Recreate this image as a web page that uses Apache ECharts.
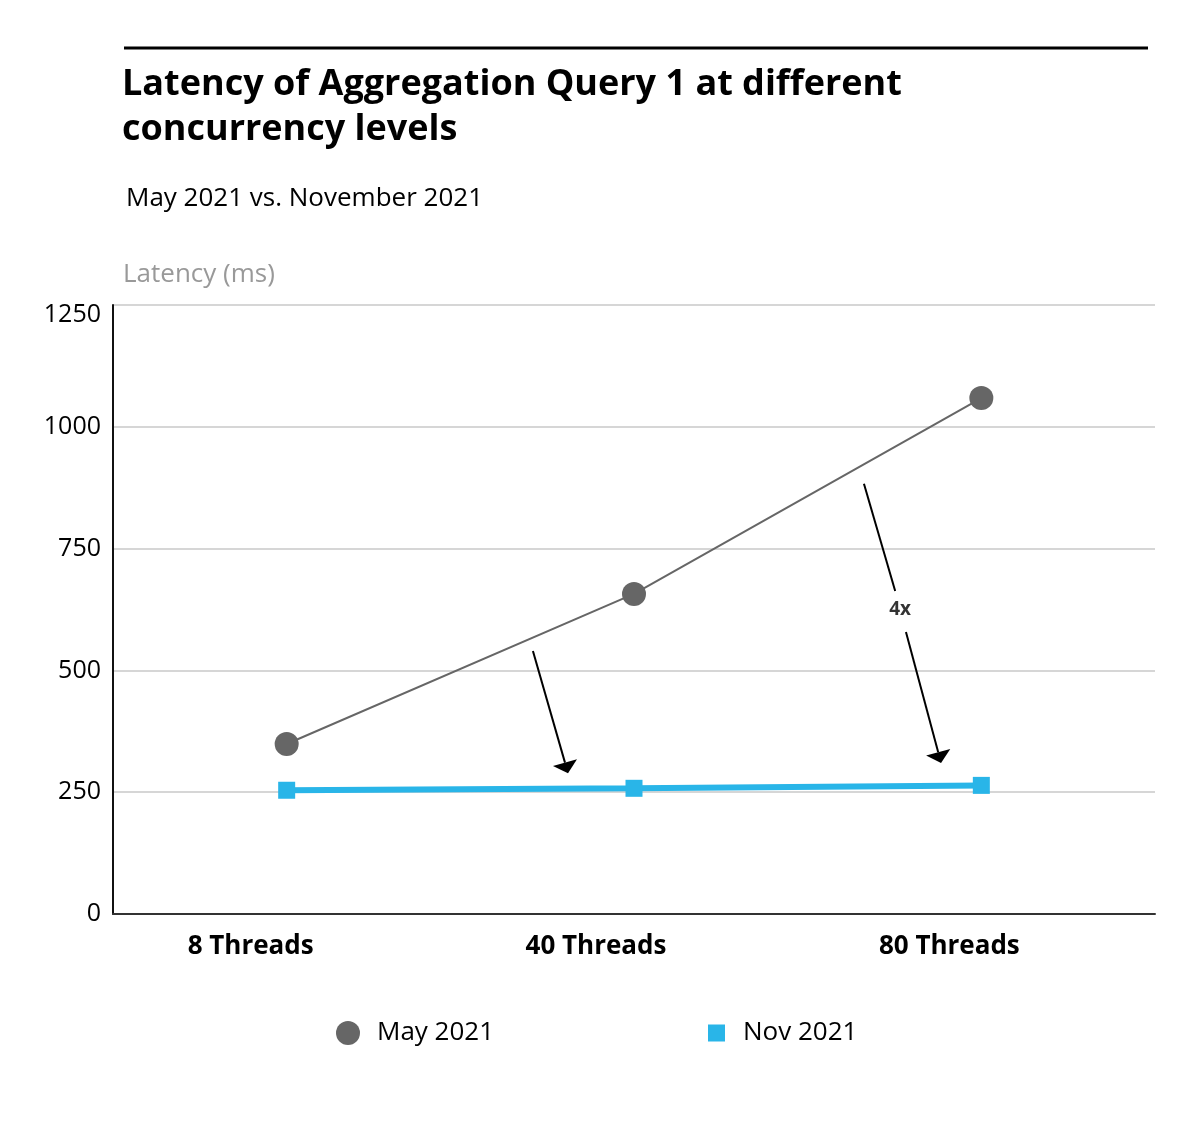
<!DOCTYPE html>
<html>
<head>
<meta charset="utf-8">
<script src="https://cdn.jsdelivr.net/npm/echarts@6/dist/echarts.min.js"></script>
<style>html,body{margin:0;padding:0;background:#fff;}#c{width:1201px;height:1128px;}</style>
</head>
<body>
<div id="c"></div>
<script>
const categories = ['8 Threads', '40 Threads', '80 Threads'];
const may2021 = [349, 657, 1059];
const nov2021 = [254, 258, 264];
const yTicks = { min: 0, max: 1250, interval: 250 };
// annotation arrows: [x1, y1, x2, y2, hasHead] — x in band units (0..3 across plot), y in ms
const arrows = [
  [1.209, 540, 1.310, 289, 1],
  [2.162, 883, 2.252, 663, 0],
  [2.283, 579, 2.384, 310, 1]
];
const arrowLabel = { pos: [2.266, 624], text: '4x' };

const FONT = 'Open Sans';
const labelShift = [72, 76, 64];
const xRich = {};
labelShift.forEach((s, i) => {
  xRich['a' + i] = { fontFamily: FONT, fontSize: 26, fontWeight: 'bold', color: '#000', padding: [0, s, 0, 0] };
});

const chart = echarts.init(document.getElementById('c'), null, { renderer: 'canvas' });
chart.setOption({
  backgroundColor: '#ffffff',
  animation: false,
  textStyle: { fontFamily: FONT },
  title: [
    {
      text: 'Latency of Aggregation Query 1 at different\nconcurrency levels',
      left: 122, top: 62, padding: 0,
      textStyle: { fontFamily: FONT, fontSize: 36, fontWeight: 'bold', color: '#000', lineHeight: 45 }
    },
    {
      text: 'May 2021 vs. November 2021',
      left: 126, top: 184, padding: 0,
      textStyle: { fontFamily: FONT, fontSize: 26, fontWeight: 'normal', color: '#000', lineHeight: 30 }
    }
  ],
  graphic: [
    { type: 'line', shape: { x1: 124, y1: 48, x2: 1148, y2: 48 }, style: { stroke: '#000', lineWidth: 3 } }
  ],
  legend: [
    {
      data: [{ name: 'May 2021', icon: 'circle' }],
      left: 336, top: 1020, padding: 0, itemWidth: 24, itemHeight: 24,
      textStyle: { fontFamily: FONT, fontSize: 26, color: '#000', padding: [0, 0, 0, 12] }
    },
    {
      data: [{ name: 'Nov 2021', icon: 'rect' }],
      left: 708, top: 1020, padding: 0, itemWidth: 17, itemHeight: 17,
      textStyle: { fontFamily: FONT, fontSize: 26, color: '#000', padding: [0, 0, 0, 13] }
    }
  ],
  grid: { left: 113, right: 46, top: 305, bottom: 214, containLabel: false },
  xAxis: [
    {
      type: 'category', data: categories, boundaryGap: true,
      axisLine: { show: true, lineStyle: { color: '#333', width: 2 } },
      axisTick: { show: false },
      axisLabel: {
        fontFamily: FONT, fontSize: 26, fontWeight: 'bold', color: '#000', margin: 20,
        formatter: (v, i) => '{a' + i + '|' + v + '}',
        rich: xRich
      },
      splitLine: { show: false }
    },
    { type: 'value', min: 0, max: 3, show: false }
  ],
  yAxis: {
    type: 'value', min: yTicks.min, max: yTicks.max, interval: yTicks.interval,
    name: 'Latency (ms)', nameLocation: 'end', nameGap: 30,
    nameTextStyle: { fontFamily: FONT, fontSize: 26, color: '#999', align: 'left', verticalAlign: 'middle', padding: [0, 0, 0, 10] },
    axisLine: { show: true, lineStyle: { color: '#111', width: 2 } },
    axisTick: { show: false },
    axisLabel: {
      fontFamily: FONT, fontSize: 25, color: '#000', margin: 12,
      formatter: v => (v === yTicks.max ? '{t|' + v + '}' : String(v)),
      rich: { t: { fontFamily: FONT, fontSize: 25, color: '#000', padding: [20, 0, 0, 0] } }
    },
    splitLine: { show: true, lineStyle: { color: '#c8c8c8', width: 1.5 } }
  },
  series: [
    {
      name: 'May 2021', type: 'line', data: may2021,
      symbol: 'circle', symbolSize: 24,
      itemStyle: { color: '#666666' },
      lineStyle: { color: '#666666', width: 2 },
      z: 3
    },
    {
      name: 'Nov 2021', type: 'line', data: nov2021,
      symbol: 'rect', symbolSize: 17,
      itemStyle: { color: '#29b5e8' },
      lineStyle: { color: '#29b5e8', width: 6 },
      z: 4
    },
    {
      type: 'custom', coordinateSystem: 'cartesian2d', xAxisIndex: 1, yAxisIndex: 0,
      data: arrows, silent: true, z: 5,
      renderItem: function (params, api) {
        const p1 = api.coord([api.value(0), api.value(1)]);
        const p2 = api.coord([api.value(2), api.value(3)]);
        const head = api.value(4);
        const dx = p2[0] - p1[0], dy = p2[1] - p1[1];
        const len = Math.sqrt(dx * dx + dy * dy);
        const ux = dx / len, uy = dy / len;
        const px = -uy, py = ux;
        const L = 11, W = 12.5;
        const children = [];
        const endLine = head ? [p2[0] - ux * L, p2[1] - uy * L] : p2;
        children.push({ type: 'line', shape: { x1: p1[0], y1: p1[1], x2: endLine[0], y2: endLine[1] }, style: { stroke: '#000', lineWidth: 2 } });
        if (head) {
          const b = [p2[0] - ux * L, p2[1] - uy * L];
          children.push({
            type: 'polygon',
            shape: { points: [p2, [b[0] + px * W, b[1] + py * W], [b[0] - px * W, b[1] - py * W]] },
            style: { fill: '#000' }
          });
        }
        return { type: 'group', children: children };
      }
    },
    {
      type: 'scatter', xAxisIndex: 1, yAxisIndex: 0, symbolSize: 1,
      itemStyle: { color: 'rgba(0,0,0,0)' },
      data: [arrowLabel.pos],
      label: { show: true, position: 'inside', formatter: arrowLabel.text, fontFamily: FONT, fontSize: 19, fontWeight: 'bold', color: '#000', textBorderWidth: 0 },
      silent: true, z: 6
    }
  ]
});
</script>
</body>
</html>
